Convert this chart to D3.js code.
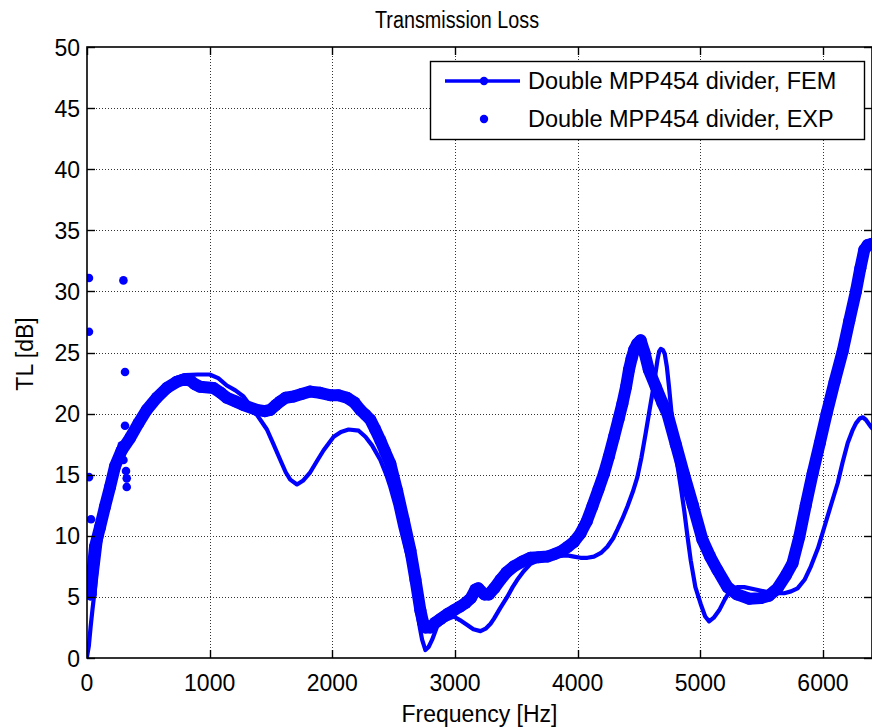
<!DOCTYPE html>
<html>
<head>
<meta charset="utf-8">
<script src="https://cdn.jsdelivr.net/npm/d3@7/dist/d3.min.js"></script>
<style>
  html, body { margin: 0; padding: 0; background: #fff; }
  svg { display: block; font-family: "Liberation Sans", Arial, Helvetica, sans-serif; }
</style>
</head>
<body>
<svg id="chart" width="872" height="728"></svg>
<script>
// Transmission loss of the double MPP454 divider: FEM prediction vs. measurement.

// FEM prediction (frequency in Hz, TL in dB)
const femFreq = [0, 15, 30, 45, 60, 80, 110, 150, 200, 260, 330, 400, 480, 560, 640, 720, 800, 900, 1000,
  1070, 1140, 1210, 1276, 1358, 1420, 1467, 1520, 1576, 1620, 1657, 1712, 1760, 1820, 1880, 1929, 2011, 2070,
  2133, 2215, 2270, 2324, 2392, 2440, 2473, 2515, 2555, 2600, 2637, 2665, 2691, 2715, 2732, 2759, 2785, 2814,
  2855, 2920, 2990, 3040, 3100, 3150, 3208, 3250, 3290, 3317, 3370, 3426, 3470, 3508, 3560, 3616, 3680, 3753,
  3830, 3916, 3970, 4024, 4080, 4133, 4190, 4242, 4290, 4324, 4365, 4406, 4450, 4487, 4520, 4555, 4585, 4610,
  4635, 4651, 4665, 4678, 4695, 4710, 4728, 4745, 4765, 4786, 4810, 4841, 4870, 4895, 4922, 4960, 5004, 5040,
  5072, 5110, 5154, 5200, 5249, 5300, 5358, 5450, 5548, 5620, 5684, 5740, 5793, 5850, 5902, 5960, 6011, 6065,
  6120, 6160, 6202, 6240, 6269, 6300, 6324, 6350, 6392, 6400];
const femTL = [0.1, 1.0, 2.6, 4.0, 5.3, 7.0, 9.5, 12.0, 14.3, 16.2, 17.7, 18.9, 20.2, 21.3, 22.2, 22.9, 23.15, 23.2, 23.2,
  22.9, 22.3, 21.9, 21.4, 20.3, 19.4, 18.7, 17.5, 16.2, 15.2, 14.6, 14.2, 14.5, 15.2, 16.2, 17.0, 18.1, 18.5,
  18.7, 18.6, 18.1, 17.4, 16.2, 15.0, 14.0, 12.5, 10.7, 8.9, 7.5, 5.8, 3.9, 2.4, 1.5, 0.65, 0.9, 1.5,
  2.6, 3.1, 3.4, 3.1, 2.7, 2.35, 2.2, 2.4, 2.8, 3.2, 4.1, 5.0, 5.8, 6.4, 7.1, 7.7, 8.0, 8.2,
  8.35, 8.4, 8.3, 8.2, 8.2, 8.3, 8.6, 9.1, 9.8, 10.5, 11.4, 12.4, 13.6, 14.8, 16.4, 18.4, 20.2, 21.7,
  23.3, 24.4, 25.1, 25.3, 25.2, 24.9, 23.8, 22.2, 20.1, 18.1, 16.0, 14.0, 12.0, 10.0, 8.0, 5.8, 4.4, 3.4,
  3.0, 3.3, 3.9, 4.8, 5.6, 5.8, 5.8, 5.6, 5.4, 5.3, 5.3, 5.45, 5.7, 6.4, 7.5, 9.0, 10.7, 12.5,
  14.3, 16.0, 17.6, 18.6, 19.2, 19.6, 19.7, 19.5, 18.9, 18.8];

// Measured sweep (dense points)
const expFreq = [30, 40, 65, 106, 147, 188, 229, 283, 351, 419, 487, 569, 651, 732, 790, 841, 880, 922, 1031,
  1090, 1140, 1210, 1276, 1385, 1450, 1494, 1540, 1576, 1620, 1684, 1750, 1820, 1900, 1984, 2050, 2120, 2180,
  2229, 2270, 2310, 2350, 2392, 2430, 2473, 2528, 2582, 2637, 2678, 2718, 2740, 2759, 2800, 2840, 2882, 2940,
  2990, 3040, 3086, 3130, 3167, 3190, 3208, 3240, 3276, 3320, 3371, 3420, 3480, 3550, 3616, 3680, 3753, 3810,
  3861, 3920, 3970, 4024, 4075, 4120, 4170, 4215, 4255, 4297, 4335, 4365, 4395, 4419, 4440, 4460, 4485, 4514,
  4545, 4580, 4637, 4690, 4732, 4800, 4868, 4940, 5017, 5080, 5140, 5222, 5300, 5400, 5494, 5560, 5630, 5700,
  5752, 5807, 5860, 5916, 5975, 6030, 6095, 6161, 6215, 6269, 6305, 6337, 6365, 6400];
const expTL = [5.2, 6.6, 9.1, 10.7, 12.4, 14.0, 15.7, 17.0, 18.0, 19.2, 20.3, 21.3, 22.1, 22.6, 22.8, 22.7, 22.4, 22.2, 22.1,
  21.7, 21.3, 21.0, 20.7, 20.3, 20.2, 20.3, 20.7, 21.0, 21.3, 21.4, 21.6, 21.8, 21.7, 21.5, 21.5, 21.3, 20.9,
  20.3, 19.9, 19.5, 18.7, 17.8, 16.9, 15.9, 13.7, 11.3, 8.8, 6.4, 3.9, 2.9, 2.5, 2.5, 2.9, 3.2, 3.6,
  3.9, 4.2, 4.5, 4.9, 5.6, 5.7, 5.5, 5.2, 5.2, 5.7, 6.4, 7.0, 7.5, 7.9, 8.2, 8.25, 8.3, 8.5,
  8.7, 9.1, 9.5, 10.2, 11.2, 12.4, 13.8, 15.1, 16.5, 18.1, 19.6, 20.8, 22.2, 23.6, 24.5, 25.2, 25.7, 26.0,
  25.0, 23.6, 22.2, 20.9, 20.0, 17.5, 15.0, 12.5, 9.7, 8.3, 7.2, 5.8, 5.2, 4.85, 4.9, 5.1, 5.7, 6.8,
  7.75, 9.9, 12.5, 15.1, 17.6, 20.0, 22.6, 25.1, 27.6, 30.0, 31.9, 33.4, 33.8, 33.9];

// Scattered low-frequency measurement points
const expLowFreq = [16, 16, 16, 33, 38, 297, 310, 310, 283, 297, 318, 324, 324];
const expLowTL = [31.1, 26.7, 14.8, 11.35, 5.3, 30.9, 23.4, 19.0, 17.4, 16.2, 15.3, 14.7, 14.0];

// Axis ticks
const xTicks = [0, 1000, 2000, 3000, 4000, 5000, 6000];
const yTicks = [0, 5, 10, 15, 20, 25, 30, 35, 40, 45, 50];

const legendLabels = ["Double MPP454 divider, FEM", "Double MPP454 divider, EXP"];

const W = 872, H = 728;
const mLeft = 87, mRight = 872, mTop = 47, mBottom = 658;
const blue = "#0000ff";

const svg = d3.select("#chart");
svg.append("rect").attr("width", W).attr("height", H).attr("fill", "#fff");

const x = d3.scaleLinear().domain([0, 6400]).range([mLeft, mRight]);
const y = d3.scaleLinear().domain([0, 50]).range([mBottom, mTop]);

// Plot clip
svg.append("clipPath").attr("id", "plotClip")
  .append("rect").attr("x", mLeft).attr("y", mTop).attr("width", mRight - mLeft).attr("height", mBottom - mTop);

// Dotted grid
const grid = svg.append("g").attr("stroke", "#333").attr("stroke-width", 1).attr("stroke-dasharray", "1,2");
grid.selectAll(".gx").data(xTicks.filter(d => d > 0)).join("line")
  .attr("x1", d => Math.round(x(d)) + 0.5).attr("x2", d => Math.round(x(d)) + 0.5)
  .attr("y1", mTop).attr("y2", mBottom);
grid.selectAll(".gy").data(yTicks.filter(d => d > 0 && d < 50)).join("line")
  .attr("y1", d => Math.round(y(d)) + 0.5).attr("y2", d => Math.round(y(d)) + 0.5)
  .attr("x1", mLeft).attr("x2", mRight);

const plot = svg.append("g").attr("clip-path", "url(#plotClip)");

const line = d3.line().x(d => x(d[0])).y(d => y(d[1])).curve(d3.curveLinear);

// FEM curve
const femPts = femFreq.map((f, i) => [f, femTL[i]]);
plot.append("path").datum(femPts)
  .attr("d", line).attr("fill", "none").attr("stroke", blue)
  .attr("stroke-width", 4.2).attr("stroke-linejoin", "round").attr("stroke-linecap", "round");

// Measured sweep: densely packed markers forming a thick band
const expPts = expFreq.map((f, i) => [f, expTL[i]]);
plot.append("path").datum(expPts)
  .attr("d", line).attr("fill", "none").attr("stroke", blue)
  .attr("stroke-width", 12).attr("stroke-linejoin", "round").attr("stroke-linecap", "round");
plot.selectAll(".expDot").data(expPts).join("circle")
  .attr("cx", d => x(d[0])).attr("cy", d => y(d[1])).attr("r", 6).attr("fill", blue);

// Scattered measurement points
plot.selectAll(".lowDot").data(expLowFreq.map((f, i) => [f, expLowTL[i]])).join("circle")
  .attr("cx", d => x(d[0])).attr("cy", d => y(d[1])).attr("r", 4.3).attr("fill", blue);

// Axes box
svg.append("rect").attr("x", mLeft).attr("y", mTop).attr("width", mRight - mLeft).attr("height", mBottom - mTop)
  .attr("fill", "none").attr("stroke", "#000").attr("stroke-width", 1.6);

// Inward ticks on all four sides
const tl = 8;
const ticks = svg.append("g").attr("stroke", "#000").attr("stroke-width", 1.4);
xTicks.forEach(d => {
  const px = Math.round(x(d)) + 0.5;
  ticks.append("line").attr("x1", px).attr("x2", px).attr("y1", mBottom).attr("y2", mBottom - tl);
  ticks.append("line").attr("x1", px).attr("x2", px).attr("y1", mTop).attr("y2", mTop + tl);
});
yTicks.forEach(d => {
  const py = Math.round(y(d)) + 0.5;
  ticks.append("line").attr("x1", mLeft).attr("x2", mLeft + tl).attr("y1", py).attr("y2", py);
  ticks.append("line").attr("x1", mRight).attr("x2", mRight - tl).attr("y1", py).attr("y2", py);
});

// Tick labels
const fs = 23;
svg.append("g").selectAll("text").data(xTicks).join("text")
  .attr("x", d => x(d)).attr("y", 691).attr("text-anchor", "middle")
  .attr("font-size", fs).attr("fill", "#000").text(d => d);
svg.append("g").selectAll("text").data(yTicks).join("text")
  .attr("x", 80).attr("y", d => y(d) + 8.5).attr("text-anchor", "end")
  .attr("font-size", fs).attr("fill", "#000").text(d => d);

// Title (slightly condensed face) and axis labels
svg.append("text").attr("transform", "translate(457,28) scale(0.86,1)").attr("text-anchor", "middle")
  .attr("font-size", 23).attr("fill", "#000").text("Transmission Loss");
svg.append("text").attr("x", (mLeft + mRight) / 2).attr("y", 722).attr("text-anchor", "middle")
  .attr("font-size", fs).attr("fill", "#000").text("Frequency [Hz]");
svg.append("text").attr("transform", "translate(33,354) rotate(-90)").attr("text-anchor", "middle")
  .attr("font-size", fs).attr("fill", "#000").text("TL [dB]");

// Legend
const lg = svg.append("g");
lg.append("rect").attr("x", 430.5).attr("y", 61.5).attr("width", 434).attr("height", 78)
  .attr("fill", "#fff").attr("stroke", "#000").attr("stroke-width", 1.4);
lg.append("line").attr("x1", 445).attr("x2", 520).attr("y1", 81).attr("y2", 81)
  .attr("stroke", blue).attr("stroke-width", 3.5);
lg.append("circle").attr("cx", 484).attr("cy", 81).attr("r", 4.2).attr("fill", blue);
lg.append("circle").attr("cx", 484).attr("cy", 119).attr("r", 4.2).attr("fill", blue);
lg.selectAll(".lt").data(legendLabels).join("text")
  .attr("x", 528).attr("y", (d, i) => 89 + i * 38)
  .attr("font-size", 23.5).attr("fill", "#000").text(d => d);
</script>
</body>
</html>
